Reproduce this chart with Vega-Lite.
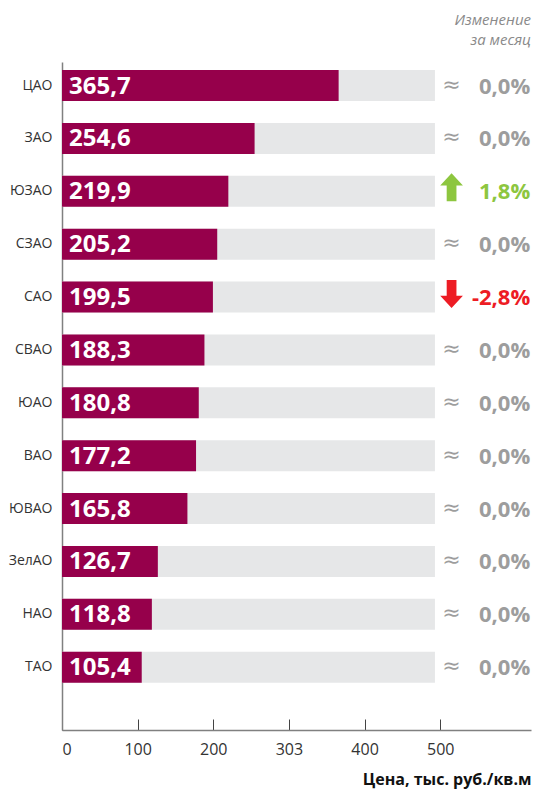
{
  "$schema": "https://vega.github.io/schema/vega-lite/v6.json",
  "width": 469,
  "height": 668,
  "autosize": "none",
  "padding": {"left": 62, "top": 62, "right": 3, "bottom": 59},
  "background": "white",
  "title": {
    "text": ["Изменение", "за месяц"],
    "anchor": "end",
    "frame": "group",
    "font": "Open Sans",
    "fontStyle": "italic",
    "fontWeight": "normal",
    "fontSize": 15,
    "lineHeight": 20,
    "color": "#8a8a8a",
    "offset": 14
  },
  "data": {
    "values": [
      {"district": "ЦАО", "price": 365.7, "change": 0.0},
      {"district": "ЗАО", "price": 254.6, "change": 0.0},
      {"district": "ЮЗАО", "price": 219.9, "change": 0.018},
      {"district": "СЗАО", "price": 205.2, "change": 0.0},
      {"district": "САО", "price": 199.5, "change": -0.028},
      {"district": "СВАО", "price": 188.3, "change": 0.0},
      {"district": "ЮАО", "price": 180.8, "change": 0.0},
      {"district": "ВАО", "price": 177.2, "change": 0.0},
      {"district": "ЮВАО", "price": 165.8, "change": 0.0},
      {"district": "ЗелАО", "price": 126.7, "change": 0.0},
      {"district": "НАО", "price": 118.8, "change": 0.0},
      {"district": "ТАО", "price": 105.4, "change": 0.0}
    ]
  },
  "encoding": {
    "y": {
      "field": "district",
      "type": "nominal",
      "sort": null,
      "scale": {"paddingInner": 0.414, "paddingOuter": 0.523, "align": 0.145},
      "axis": {
        "title": null,
        "ticks": false,
        "domainColor": "#808080",
        "domainWidth": 1.5,
        "labelPadding": 10,
        "labelFontSize": 14,
        "labelColor": "#333333",
        "labelFont": "Open Sans"
      }
    }
  },
  "layer": [
    {
      "mark": {"type": "bar", "color": "#e6e7e8"},
      "encoding": {
        "x": {
          "datum": 493,
          "type": "quantitative",
          "scale": {"domain": [0, 620], "nice": false, "zero": true},
          "axis": {
            "values": [0, 100, 200, 300, 400, 500],
            "labelExpr": "datum.value == 300 ? '303' : datum.label",
            "grid": false,
            "tickSize": -11,
            "tickColor": "#444444",
            "tickWidth": 1,
            "domainColor": "#808080",
            "domainWidth": 1.5,
            "labelPadding": 22,
            "labelFontSize": 16,
            "labelColor": "#333333",
            "labelFont": "Open Sans",
            "title": "Цена, тыс. руб./кв.м",
            "titleFont": "Open Sans",
            "titleFontWeight": "bold",
            "titleFontSize": 16,
            "titleColor": "#111111",
            "titleAlign": "right",
            "titleAnchor": "end",
            "titleBaseline": "alphabetic",
            "titleX": 469,
            "titleY": 54
          }
        }
      }
    },
    {
      "mark": {"type": "bar", "color": "#96004b"},
      "encoding": {
        "x": {"field": "price", "type": "quantitative"}
      }
    },
    {
      "mark": {"type": "text", "align": "left", "baseline": "middle", "dx": 7, "dy": 1, "font": "Open Sans", "fontWeight": "bold", "fontSize": 24, "color": "white"},
      "encoding": {
        "x": {"datum": 0, "type": "quantitative"},
        "text": {"field": "price", "type": "quantitative", "format": ".1f"}
      }
    },
    {
      "transform": [{"filter": "datum.change == 0"}],
      "mark": {"type": "text", "align": "center", "baseline": "middle", "dy": -1, "font": "DejaVu Sans", "fontSize": 22, "color": "#9d9d9d"},
      "encoding": {
        "x": {"datum": 515, "type": "quantitative"},
        "text": {"value": "≈"}
      }
    },
    {
      "transform": [{"filter": "datum.change > 0"}],
      "mark": {"type": "point", "filled": true, "opacity": 1, "yOffset": -4, "shape": "M0,-1.23L1,-0.15L0.43,-0.15L0.43,1.23L-0.43,1.23L-0.43,-0.15L-1,-0.15Z", "size": 515, "color": "#8dc63f", "strokeWidth": 0},
      "encoding": {
        "x": {"datum": 515, "type": "quantitative"}
      }
    },
    {
      "transform": [{"filter": "datum.change < 0"}],
      "mark": {"type": "point", "filled": true, "opacity": 1, "yOffset": -3, "shape": "M0,1.23L1,0.15L0.43,0.15L0.43,-1.23L-0.43,-1.23L-0.43,0.15L-1,0.15Z", "size": 515, "color": "#ed1c24", "strokeWidth": 0},
      "encoding": {
        "x": {"datum": 515, "type": "quantitative"}
      }
    },
    {
      "mark": {"type": "text", "align": "right", "baseline": "middle", "dy": 1, "font": "Open Sans", "fontWeight": "bold", "fontSize": 22},
      "encoding": {
        "x": {"datum": 619, "type": "quantitative"},
        "text": {"field": "change", "type": "quantitative", "format": ".1%"},
        "color": {
          "condition": [
            {"test": "datum.change > 0", "value": "#8dc63f"},
            {"test": "datum.change < 0", "value": "#ed1c24"}
          ],
          "value": "#9d9d9d"
        }
      }
    }
  ],
  "config": {
    "font": "Open Sans",
    "view": {"stroke": null},
    "locale": {
      "number": {"decimal": ",", "thousands": " ", "grouping": [3], "currency": ["", ""], "minus": "-"}
    }
  }
}
